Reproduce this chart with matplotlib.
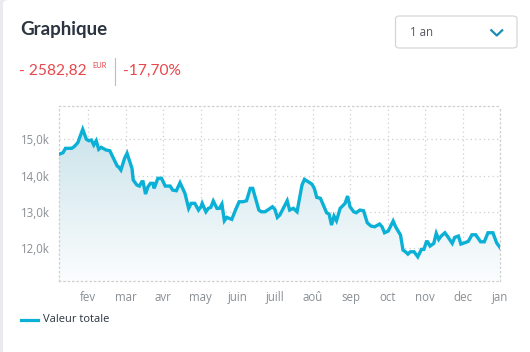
import numpy as np
import pandas as pd
import matplotlib
matplotlib.use("Agg")
import matplotlib.pyplot as plt
from matplotlib.patches import FancyBboxPatch
from matplotlib.lines import Line2D
from matplotlib.colors import LinearSegmentedColormap

# ---------------- data ----------------
dates = [
    "2022-01-08", "2022-01-11", "2022-01-13", "2022-01-18", "2022-01-20", "2022-01-23",
    "2022-01-27", "2022-01-30", "2022-02-01", "2022-02-03", "2022-02-05", "2022-02-07",
    "2022-02-09", "2022-02-11", "2022-02-15", "2022-02-18", "2022-02-24", "2022-02-25",
    "2022-02-27", "2022-03-02", "2022-03-04", "2022-03-08", "2022-03-09", "2022-03-12",
    "2022-03-14", "2022-03-16", "2022-03-17", "2022-03-19", "2022-03-21", "2022-03-23",
    "2022-03-25", "2022-03-26", "2022-03-29", "2022-04-01", "2022-04-04", "2022-04-08",
    "2022-04-10", "2022-04-13", "2022-04-16", "2022-04-20", "2022-04-23", "2022-04-25",
    "2022-04-28", "2022-05-01", "2022-05-03", "2022-05-04", "2022-05-07", "2022-05-09",
    "2022-05-11", "2022-05-13", "2022-05-16", "2022-05-18", "2022-05-20", "2022-05-22",
    "2022-05-24", "2022-05-28", "2022-05-31", "2022-06-03", "2022-06-06", "2022-06-09",
    "2022-06-12", "2022-06-14", "2022-06-19", "2022-06-21", "2022-06-24", "2022-06-27",
    "2022-06-30", "2022-07-02", "2022-07-04", "2022-07-06", "2022-07-12", "2022-07-14",
    "2022-07-17", "2022-07-20", "2022-07-24", "2022-07-26", "2022-07-29", "2022-08-01",
    "2022-08-03", "2022-08-05", "2022-08-08", "2022-08-10", "2022-08-13", "2022-08-15",
    "2022-08-17", "2022-08-19", "2022-08-21", "2022-08-24", "2022-08-28", "2022-08-30",
    "2022-09-01", "2022-09-04", "2022-09-06", "2022-09-09", "2022-09-12", "2022-09-15",
    "2022-09-18", "2022-09-21", "2022-09-25", "2022-09-27", "2022-09-29", "2022-10-02",
    "2022-10-06", "2022-10-08", "2022-10-12", "2022-10-14", "2022-10-16", "2022-10-18",
    "2022-10-20", "2022-10-23", "2022-10-26", "2022-10-29", "2022-10-31", "2022-11-02",
    "2022-11-03", "2022-11-05", "2022-11-08", "2022-11-10", "2022-11-12", "2022-11-14",
    "2022-11-17", "2022-11-19", "2022-11-23", "2022-11-25", "2022-11-28", "2022-11-30",
    "2022-12-03", "2022-12-06", "2022-12-09", "2022-12-12", "2022-12-16", "2022-12-19",
    "2022-12-22", "2022-12-26", "2022-12-29", "2023-01-01",
]
values = [
    14592, 14631, 14752, 14752, 14796, 14906,
    15275, 15000, 14961, 14981, 14843, 14961,
    14725, 14780, 14705, 14686, 14264, 14245,
    14154, 14477, 14614, 14201, 13879, 13741,
    13713, 13832, 13832, 13493, 13694, 13788,
    13788, 13650, 13926, 13926, 13713, 13713,
    13603, 13584, 13804, 13512, 13099, 13237,
    13237, 13052, 13143, 13237, 13005, 13099,
    13127, 13300, 13099, 13099, 13218, 12758,
    12851, 12796, 13052, 13281, 13281, 13309,
    13650, 13650, 13052, 13005, 13005, 13072,
    13143, 13072, 12851, 12915, 13309, 13052,
    13099, 13005, 13741, 13898, 13832, 13769,
    13650, 13402, 13375, 13218, 12978, 12942,
    12639, 12887, 12758, 13099, 13237, 13438,
    13143, 13005, 12978, 13052, 13033, 12702,
    12612, 12592, 12667, 12592, 12427, 12474,
    12749, 12592, 12364, 11950, 11904, 11840,
    11904, 11904, 11766, 11970, 11970, 12179,
    12179, 12061, 12135, 12410, 12245, 12336,
    12427, 12336, 12135, 12300, 12336, 12116,
    12151, 12190, 12372, 12372, 12179, 12179,
    12427, 12427, 12151, 12010,
]
month_labels = ["fev", "mar", "avr", "may", "juin", "juill", "aoû", "sep", "oct", "nov", "dec", "jan"]
y_ticks = [12000, 13000, 14000, 15000]
y_tick_labels = ["12,0k", "13,0k", "14,0k", "15,0k"]
title = "Graphique"
change_abs = "- 2582,82"
currency = "EUR"
change_pct = "-17,70%"
period = "1 an"
series_name = "Valeur totale"

# ---------------- figure ----------------
W, H = 530, 352
fig = plt.figure(figsize=(W / 100, H / 100), dpi=100)
fig.patch.set_facecolor("#e9ebee")

def fx(px):
    return px / W

def fy(py):
    return 1 - py / H

# card
card = FancyBboxPatch((3 / W, -10 / H), (W + 10) / W, (H + 10) / H,
                      boxstyle="round,pad=0,rounding_size=0.012",
                      transform=fig.transFigure, facecolor="white",
                      edgecolor="none", zorder=-5)
fig.patches.append(card)

LINE = "#0ab0d6"
GRID = "#cfcfcf"

ax = fig.add_axes([59.3 / W, 1 - 281 / H, (500.3 - 59.3) / W, (281 - 106) / H])
ax.set_facecolor("none")
ax.set_zorder(5)

t0 = pd.Timestamp("2022-01-01")
x = np.array([(pd.Timestamp(d) - t0).days for d in dates], dtype=float)
y = np.array(values, dtype=float)

ymin, ymax = 11099, 15917
ax.set_xlim(x[0], 365)
ax.set_ylim(ymin, ymax)

# gradient fill
grad = np.linspace(0, 1, 256).reshape(-1, 1)
cmap = LinearSegmentedColormap.from_list("g", ["#fbfdfe", "#c4e0e8"])
im = ax.imshow(grad, extent=[x[0], 365, ymin, ymax], origin="lower",
               aspect="auto", cmap=cmap, vmin=0, vmax=1, zorder=1,
               interpolation="bilinear")
poly = ax.fill_between(x, y, ymin, color="none", lw=0)
clip = poly.get_paths()[0]
im.set_clip_path(clip, transform=ax.transData)

ax.plot(x, y, color=LINE, lw=2.4, solid_joinstyle="miter", zorder=3)

# grid & ticks
month_pos = [(k + 1) * 365 / 12 for k in range(12)]
ax.set_xticks(month_pos)
ax.set_xticklabels(month_labels)
ax.set_yticks(y_ticks)
ax.set_yticklabels(y_tick_labels)
ax.grid(True, color=GRID, linestyle=(0, (1, 2.5)), lw=0.9, zorder=0)
ax.set_axisbelow(True)
for s in ax.spines.values():
    s.set_color(GRID)
    s.set_linestyle((0, (1, 2.5)))
    s.set_linewidth(0.9)
ax.tick_params(length=0, labelsize=8.3, labelcolor="#8a8f94")
for lbl in ax.get_xticklabels() + ax.get_yticklabels():
    lbl.set_fontfamily("Open Sans")
ax.tick_params(axis="x", pad=7)
ax.tick_params(axis="y", pad=7)

# ---------------- header text ----------------
fig.text(fx(20), fy(29), title, fontsize=13.5, fontweight="bold",
         color="#2b3440", family="Lato", va="center", ha="left")
RED = "#e8474c"
fig.text(fx(19), fy(71), change_abs, fontsize=11.2, color=RED,
         family="Lato", va="center", ha="left")
fig.text(fx(92), fy(66), currency, fontsize=5.4, color=RED,
         family="Lato", va="center", ha="left")
fig.add_artist(Line2D([fx(115), fx(115)], [fy(58), fy(85)], color="#b8bec6",
                      lw=0.8, transform=fig.transFigure))
fig.text(fx(123), fy(71), change_pct, fontsize=11.2, color=RED,
         family="Lato", va="center", ha="left")

# dropdown
box = FancyBboxPatch((fx(395.5), fy(48)), (517 - 395.5) / W, 32 / H,
                     boxstyle="round,pad=0,rounding_size=0.008",
                     transform=fig.transFigure, facecolor="white",
                     edgecolor="#d6d6d6", lw=0.9)
fig.patches.append(box)
fig.text(fx(410), fy(33), period, fontsize=8.3, color="#555a60",
         family="Open Sans", va="center", ha="left")
fig.add_artist(Line2D([fx(490.5), fx(496.8), fx(503)], [fy(29.5), fy(35.5), fy(29.5)],
                      color="#1a8db2", lw=1.6, transform=fig.transFigure,
                      solid_capstyle="butt"))

# legend
fig.add_artist(Line2D([fx(21), fx(38)], [fy(320), fy(320)], color=LINE,
                      lw=2.3, transform=fig.transFigure))
fig.text(fx(43), fy(320), series_name, fontsize=8.0, color="#2b3440",
         family="Open Sans", va="center", ha="left")

fig.savefig("out.png", dpi=100, facecolor=fig.get_facecolor())
